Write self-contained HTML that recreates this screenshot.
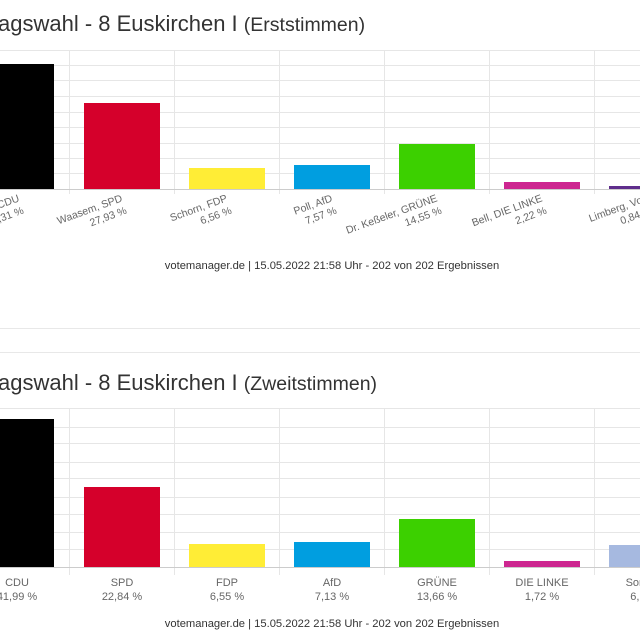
<!DOCTYPE html>
<html><head><meta charset="utf-8"><style>
html,body{margin:0;padding:0;background:#fff;width:640px;height:640px;overflow:hidden}
svg{display:block;font-family:"Liberation Sans",sans-serif}
</style></head><body>
<svg width="640" height="640" viewBox="0 0 640 640" xmlns="http://www.w3.org/2000/svg">
<!-- Chart 1 -->
<text x="-2" y="31" font-size="22" fill="#333">agswahl - 8 Euskirchen I <tspan font-size="19.5">(Erststimmen)</tspan></text>
<g stroke="#e6e6e6" stroke-width="1">
<line x1="0" x2="640" y1="50.5" y2="50.5"/><line x1="0" x2="640" y1="65.5" y2="65.5"/><line x1="0" x2="640" y1="80.5" y2="80.5"/><line x1="0" x2="640" y1="96.5" y2="96.5"/><line x1="0" x2="640" y1="112.5" y2="112.5"/><line x1="0" x2="640" y1="127.5" y2="127.5"/><line x1="0" x2="640" y1="143.5" y2="143.5"/><line x1="0" x2="640" y1="158.5" y2="158.5"/><line x1="0" x2="640" y1="173.5" y2="173.5"/>
<line x1="69.5" x2="69.5" y1="50" y2="194"/><line x1="174.5" x2="174.5" y1="50" y2="194"/><line x1="279.5" x2="279.5" y1="50" y2="194"/><line x1="384.5" x2="384.5" y1="50" y2="194"/><line x1="489.5" x2="489.5" y1="50" y2="194"/><line x1="594.5" x2="594.5" y1="50" y2="194"/>
</g>
<rect x="0" y="64" width="54" height="125" fill="#000"/>
<rect x="84" y="103" width="76" height="86" fill="#d5002b"/>
<rect x="189" y="168" width="76" height="21" fill="#ffed36"/>
<rect x="294" y="165" width="76" height="24" fill="#009ee0"/>
<rect x="399" y="144" width="76" height="45" fill="#3cd000"/>
<rect x="504" y="182" width="76" height="7" fill="#cd2690"/>
<rect x="609" y="186" width="40" height="3" fill="#5f2d8c"/>
<line x1="0" x2="640" y1="189.5" y2="189.5" stroke="#ccc"/>
<g font-size="10.5" fill="#666" text-anchor="end">
<g transform="rotate(-20 20 201)"><text x="20" y="201">CDU</text><text x="20" y="214">40,31 %</text></g>
<g transform="rotate(-20 123 201)"><text x="123" y="201">Waasem, SPD</text><text x="123" y="214">27,93 %</text></g>
<g transform="rotate(-20 228 201)"><text x="228" y="201">Schorn, FDP</text><text x="228" y="214">6,56 %</text></g>
<g transform="rotate(-20 333 201)"><text x="333" y="201">Poll, AfD</text><text x="333" y="214">7,57 %</text></g>
<g transform="rotate(-20 438 201)"><text x="438" y="201">Dr. Keßeler, GRÜNE</text><text x="438" y="214">14,55 %</text></g>
<g transform="rotate(-20 543 201)"><text x="543" y="201">Bell, DIE LINKE</text><text x="543" y="214">2,22 %</text></g>
<g transform="rotate(-20 648 201)"><text x="648" y="201">Limberg, Volt</text><text x="648" y="214">0,84 %</text></g>
</g>
<text x="332" y="269" font-size="11.2" fill="#333" text-anchor="middle">votemanager.de | 15.05.2022 21:58 Uhr - 202 von 202 Ergebnissen</text>
<line x1="0" x2="640" y1="328.5" y2="328.5" stroke="#e8e8e8"/>
<line x1="0" x2="640" y1="352.5" y2="352.5" stroke="#e8e8e8"/>
<!-- Chart 2 -->
<text x="-2" y="390" font-size="22" fill="#333">agswahl - 8 Euskirchen I <tspan font-size="19.5">(Zweitstimmen)</tspan></text>
<g stroke="#e6e6e6" stroke-width="1">
<line x1="0" x2="640" y1="408.5" y2="408.5"/><line x1="0" x2="640" y1="427.5" y2="427.5"/><line x1="0" x2="640" y1="443.5" y2="443.5"/><line x1="0" x2="640" y1="462.5" y2="462.5"/><line x1="0" x2="640" y1="478.5" y2="478.5"/><line x1="0" x2="640" y1="497.5" y2="497.5"/><line x1="0" x2="640" y1="514.5" y2="514.5"/><line x1="0" x2="640" y1="532.5" y2="532.5"/><line x1="0" x2="640" y1="549.5" y2="549.5"/>
<line x1="69.5" x2="69.5" y1="408" y2="575"/><line x1="174.5" x2="174.5" y1="408" y2="575"/><line x1="279.5" x2="279.5" y1="408" y2="575"/><line x1="384.5" x2="384.5" y1="408" y2="575"/><line x1="489.5" x2="489.5" y1="408" y2="575"/><line x1="594.5" x2="594.5" y1="408" y2="575"/>
</g>
<rect x="0" y="419" width="54" height="148" fill="#000"/>
<rect x="84" y="487" width="76" height="80" fill="#d5002b"/>
<rect x="189" y="544" width="76" height="23" fill="#ffed36"/>
<rect x="294" y="542" width="76" height="25" fill="#009ee0"/>
<rect x="399" y="519" width="76" height="48" fill="#3cd000"/>
<rect x="504" y="561" width="76" height="6" fill="#cd2690"/>
<rect x="609" y="545" width="40" height="22" fill="#a6b9e0"/>
<line x1="0" x2="640" y1="567.5" y2="567.5" stroke="#ccc"/>
<g font-size="11" fill="#666" text-anchor="middle">
<text x="17" y="586">CDU</text><text x="17" y="600">41,99 %</text>
<text x="122" y="586">SPD</text><text x="122" y="600">22,84 %</text>
<text x="227" y="586">FDP</text><text x="227" y="600">6,55 %</text>
<text x="332" y="586">AfD</text><text x="332" y="600">7,13 %</text>
<text x="437" y="586">GRÜNE</text><text x="437" y="600">13,66 %</text>
<text x="542" y="586">DIE LINKE</text><text x="542" y="600">1,72 %</text>
<text x="647" y="586">Sonstige</text><text x="647" y="600">6,11 %</text>
</g>
<text x="332" y="627" font-size="11.2" fill="#333" text-anchor="middle">votemanager.de | 15.05.2022 21:58 Uhr - 202 von 202 Ergebnissen</text>
</svg>
</body></html>
